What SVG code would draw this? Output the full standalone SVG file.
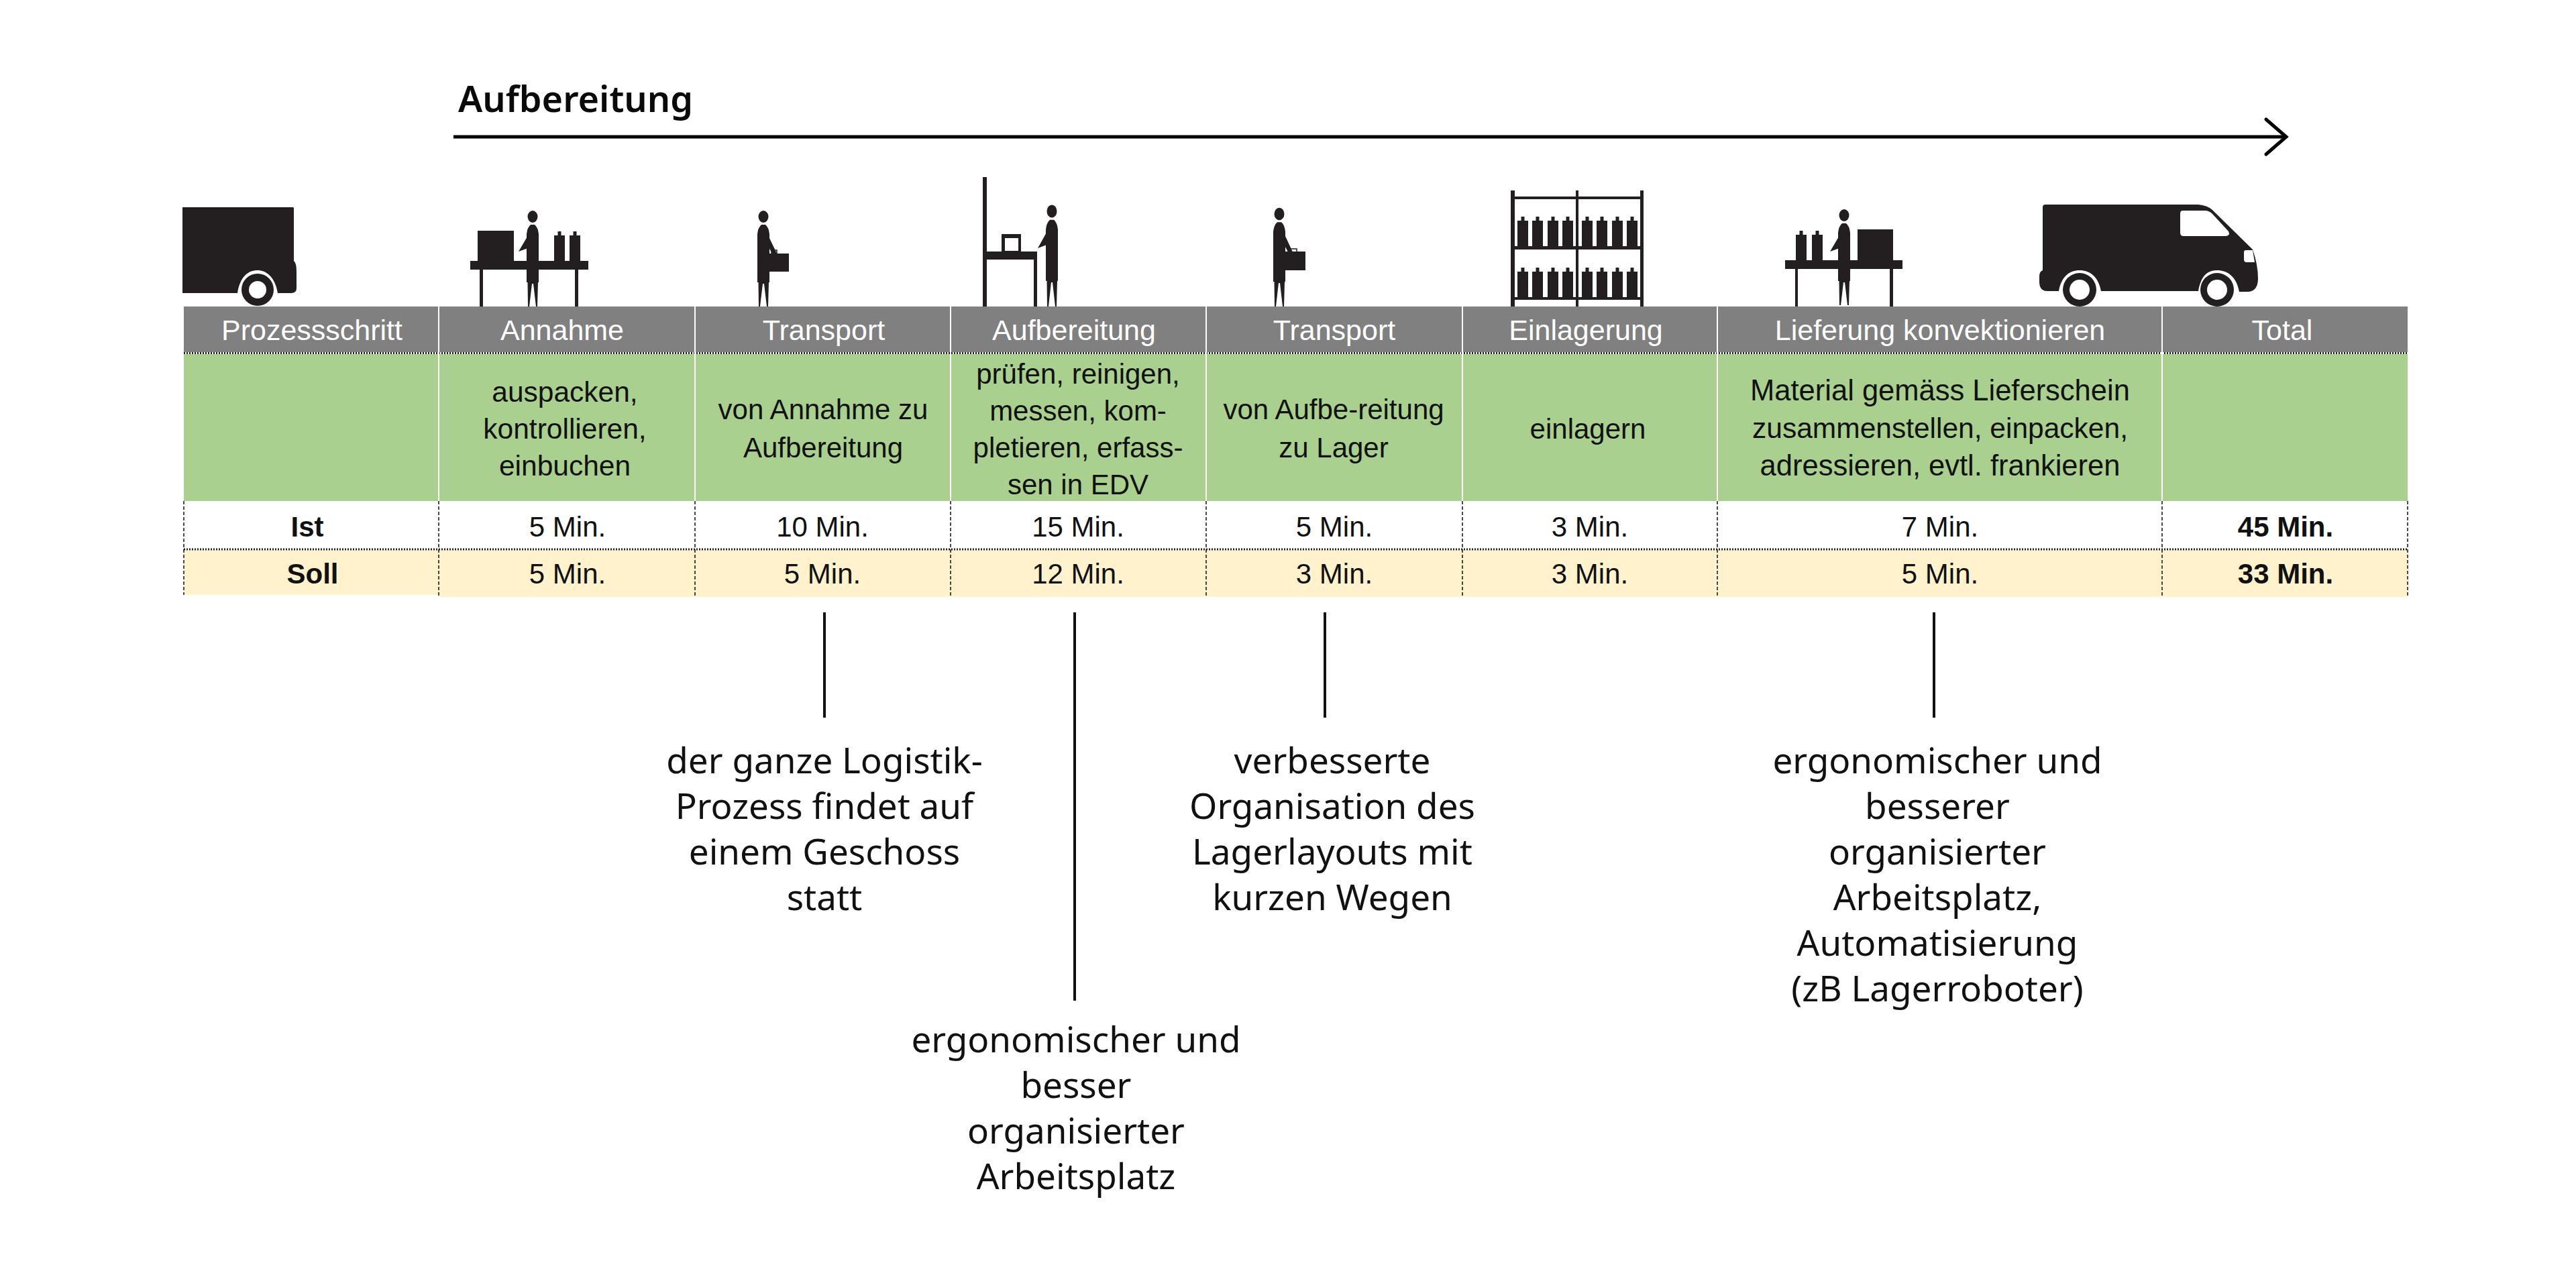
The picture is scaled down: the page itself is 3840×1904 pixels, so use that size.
<svg xmlns="http://www.w3.org/2000/svg" width="3840" height="1904" viewBox="0 0 3840 1904">
<style>
.k{fill:#231f20}
.w{fill:#fff}
.t{font-family:"Liberation Sans",Arial,sans-serif;font-size:42px;text-anchor:middle;fill:#111}
.g{font-size:42.500px}
.h{fill:#fff;font-size:43px}
.b{font-weight:700}
.c{font-family:"Noto Sans","Open Sans",sans-serif;font-size:53px;font-weight:400;text-anchor:middle;fill:#111}
.title{font-family:"Noto Sans","Open Sans",sans-serif;font-size:54px;font-weight:600;fill:#0a0a0a}
.vw{stroke:#fff;stroke-width:2;fill:none}
.vd{stroke:#111;stroke-width:1.500;stroke-dasharray:5 3;fill:none}
.hd{stroke:#222;stroke-width:3;stroke-dasharray:2 2;fill:none}
.ln{stroke:#111;stroke-width:4;fill:none}
</style>
<defs>
<g id="person">
<ellipse cx="0" cy="-134" rx="7.5" ry="9"/>
<path d="M-3-122Q-8-118-9-108V-36H-7.500L-7 0H-5L-1-34H1L5 0H7L8-36H9V-108Q8-118 3-122Z"/>
</g>
<path id="armL" d="M-8-104L-21-82L-7-87Z"/>
<path id="armR" d="M8-104L20-79H13L7-90Z"/>
<path id="bottle" d="M-2.500 0V-6H2.500V0H8V38H-8V0Z"/>
</defs>
<rect width="3840" height="1904" fill="#fff"/>

<g id="title"><text class="title" x="683" y="167">Aufbereitung</text></g>

<g id="connectors">
<path d="M676 204H3408" stroke="#000" stroke-width="5" fill="none"/>
<path d="M3378 178L3408 204L3378 230" stroke="#000" stroke-width="5" fill="none" stroke-linecap="round"/>
<path class="ln" d="M1229 913V1070"/>
<path class="ln" d="M1602 913V1492"/>
<path class="ln" d="M1975 913V1070"/>
<path class="ln" d="M2883 913V1070"/>
</g>

<g id="icon-truck-left">
<path class="k" d="M272 309H437Q438 309 438 311V389Q442 392 442 405V430Q442 437 434 437H414C410 412 396 403 384 403C370 403 358 412 354 437H272Z"/>
<circle class="k" cx="384" cy="432" r="24"/>
<circle class="w" cx="384" cy="432" r="13"/>
</g>

<g id="icon-annahme" class="k">
<rect x="701" y="389" width="176" height="13"/>
<rect x="715" y="402" width="5" height="55"/>
<rect x="857" y="402" width="5" height="55"/>
<rect x="712" y="344" width="54" height="45"/>
<use href="#bottle" x="834" y="351"/>
<use href="#bottle" x="857" y="351"/>
<use href="#person" x="794" y="457"/>
<use href="#armL" x="794" y="457"/>
</g>

<g id="icon-transport-1" class="k">
<use href="#person" x="1138" y="457"/>
<use href="#armR" x="1138" y="457"/>
<rect x="1146" y="378" width="30" height="27"/>
<path d="M1150 378V373H1158V378" fill="none" stroke="#231f20" stroke-width="1.500"/>
</g>

<g id="icon-aufbereitung" class="k">
<rect x="1465" y="264" width="6" height="193"/>
<rect x="1465" y="375" width="81" height="12"/>
<rect x="1541" y="387" width="5" height="70"/>
<path fill-rule="evenodd" d="M1493 349H1522V375H1493ZM1498 355V374H1518V355Z"/>
<use href="#person" transform="translate(1568 457) scale(1 1.06)"/>
<use href="#armL" transform="translate(1568 457) scale(1 1.06)"/>
</g>

<g id="icon-transport-2" class="k">
<use href="#person" transform="translate(1907 457) scale(1 1.03)"/>
<use href="#armR" transform="translate(1907 457) scale(1 1.03)"/>
<rect x="1915" y="375" width="31" height="28"/>
<path d="M1922 375V371H1933V375" fill="none" stroke="#231f20" stroke-width="1.500"/>
</g>

<g id="icon-rack" class="k">
<rect x="2252" y="284" width="6" height="173"/>
<rect x="2349" y="284" width="4" height="173"/>
<rect x="2445" y="284" width="5" height="173"/>
<rect x="2256" y="293" width="192" height="4"/>
<rect x="2256" y="367" width="192" height="5"/>
<rect x="2256" y="443" width="192" height="4"/>
<use href="#bottle" x="2270" y="329"/><use href="#bottle" x="2292" y="329"/><use href="#bottle" x="2315" y="329"/><use href="#bottle" x="2337" y="329"/>
<use href="#bottle" x="2366" y="329"/><use href="#bottle" x="2388" y="329"/><use href="#bottle" x="2411" y="329"/><use href="#bottle" x="2433" y="329"/>
<use href="#bottle" x="2270" y="405"/><use href="#bottle" x="2292" y="405"/><use href="#bottle" x="2315" y="405"/><use href="#bottle" x="2337" y="405"/>
<use href="#bottle" x="2366" y="405"/><use href="#bottle" x="2388" y="405"/><use href="#bottle" x="2411" y="405"/><use href="#bottle" x="2433" y="405"/>
</g>

<g id="icon-lieferung" class="k">
<rect x="2661" y="388" width="175" height="13"/>
<rect x="2676" y="401" width="4" height="56"/>
<rect x="2817" y="401" width="5" height="56"/>
<rect x="2769" y="342" width="53" height="46"/>
<use href="#bottle" x="2685" y="350"/>
<use href="#bottle" x="2709" y="350"/>
<use href="#person" x="2749" y="455"/>
<use href="#armL" x="2749" y="457"/>
</g>

<g id="icon-van">
<path class="k" d="M3045 309Q3045 305 3049 305H3277Q3290 306 3298 313L3358 372Q3366 395 3366 415Q3366 435 3350 435H3338C3334 412 3320 403 3305 403C3290 403 3281 412 3277 434H3132C3128 412 3115 403 3100 403C3085 403 3073 412 3069 434H3052Q3040 434 3040 420V412Q3040 405 3045 403Z"/>
<path class="w" d="M3254 314H3287Q3293 314 3298 319L3322 345Q3325 351 3318 352H3255Q3250 352 3250 347V318Q3250 314 3254 314Z"/>
<path class="w" d="M3348 373H3358L3361 391H3349Q3345 391 3345 387V376Q3345 373 3348 373Z"/>
<circle class="k" cx="3100" cy="432" r="25"/><circle class="w" cx="3100" cy="432" r="15"/>
<circle class="k" cx="3305" cy="432" r="25"/><circle class="w" cx="3305" cy="432" r="15"/>
</g>

<g id="table-bands">
<rect x="274" y="457" width="3315" height="68" fill="#808080"/>
<rect x="274" y="528" width="3315" height="219" fill="#a9d08e"/>
<rect x="274" y="820" width="380" height="67" fill="#fff2cc"/>
<rect x="654" y="820" width="2935" height="70" fill="#fff2cc"/>
<path class="hd" d="M274 526.500H3589"/>
<path class="hd" d="M274 819H3589"/>
<path class="vw" d="M654 457V747M1036 457V747M1417 457V747M1798 457V747M2180 457V747M2560 457V747M3223 457V747"/>
<path class="vd" d="M274 747V887M654 747V890M1036 747V890M1417 747V890M1798 747V890M2180 747V890M2560 747V890M3223 747V890M3589 747V890"/>
</g>

<g id="col-prozessschritt"><text class="t h" x="465" y="507">Prozessschritt</text><text class="t b" x="458" y="800">Ist</text><text class="t b" x="466" y="870">Soll</text></g>
<g id="col-annahme"><text class="t h" x="838" y="507">Annahme</text><text class="t g" x="842" y="599">auspacken,</text><text class="t g" x="842" y="654">kontrollieren,</text><text class="t g" x="842" y="709">einbuchen</text><text class="t" x="846" y="800">5 Min.</text><text class="t" x="846" y="870">5 Min.</text></g>
<g id="col-transport-1"><text class="t h" x="1228" y="507">Transport</text><text class="t" x="1227" y="625">von Annahme zu</text><text class="t" x="1227" y="682">Aufbereitung</text><text class="t" x="1226" y="800">10 Min.</text><text class="t" x="1226" y="870">5 Min.</text></g>
<g id="col-aufbereitung"><text class="t h" x="1601" y="507">Aufbereitung</text><text class="t" x="1607" y="572">prüfen, reinigen,</text><text class="t" x="1607" y="627">messen, kom-</text><text class="t" x="1607" y="682">pletieren, erfass-</text><text class="t" x="1607" y="737">sen in EDV</text><text class="t" x="1607" y="800">15 Min.</text><text class="t" x="1607" y="870">12 Min.</text></g>
<g id="col-transport-2"><text class="t h" x="1989" y="507">Transport</text><text class="t" x="1988" y="625">von Aufbe-reitung</text><text class="t" x="1988" y="682">zu Lager</text><text class="t" x="1989" y="800">5 Min.</text><text class="t" x="1989" y="870">3 Min.</text></g>
<g id="col-einlagerung"><text class="t h" x="2364" y="507">Einlagerung</text><text class="t" x="2367" y="654">einlagern</text><text class="t" x="2370" y="800">3 Min.</text><text class="t" x="2370" y="870">3 Min.</text></g>
<g id="col-lieferung"><text class="t h" x="2892" y="507">Lieferung konvektionieren</text><text class="t g" x="2892" y="597" style="font-size:43.500px">Material gemäss Lieferschein</text><text class="t g" x="2892" y="653">zusammenstellen, einpacken,</text><text class="t g" x="2892" y="709" style="font-size:43.500px">adressieren, evtl. frankieren</text><text class="t" x="2892" y="800">7 Min.</text><text class="t" x="2892" y="870">5 Min.</text></g>
<g id="col-total"><text class="t h" x="3402" y="507">Total</text><text class="t b" x="3407" y="800">45 Min.</text><text class="t b" x="3407" y="870">33 Min.</text></g>

<g id="note-1"><text class="c" x="1229" y="1153">der ganze Logistik-</text><text class="c" x="1229" y="1221">Prozess findet auf</text><text class="c" x="1229" y="1289">einem Geschoss</text><text class="c" x="1229" y="1357">statt</text></g>
<g id="note-2"><text class="c" x="1604" y="1569">ergonomischer und</text><text class="c" x="1604" y="1637">besser</text><text class="c" x="1604" y="1705">organisierter</text><text class="c" x="1604" y="1773">Arbeitsplatz</text></g>
<g id="note-3"><text class="c" x="1986" y="1153">verbesserte</text><text class="c" x="1986" y="1221">Organisation des</text><text class="c" x="1986" y="1289">Lagerlayouts mit</text><text class="c" x="1986" y="1357">kurzen Wegen</text></g>
<g id="note-4"><text class="c" x="2888" y="1153">ergonomischer und</text><text class="c" x="2888" y="1221">besserer</text><text class="c" x="2888" y="1289">organisierter</text><text class="c" x="2888" y="1357">Arbeitsplatz,</text><text class="c" x="2888" y="1425">Automatisierung</text><text class="c" x="2888" y="1493">(zB Lagerroboter)</text></g>
</svg>
